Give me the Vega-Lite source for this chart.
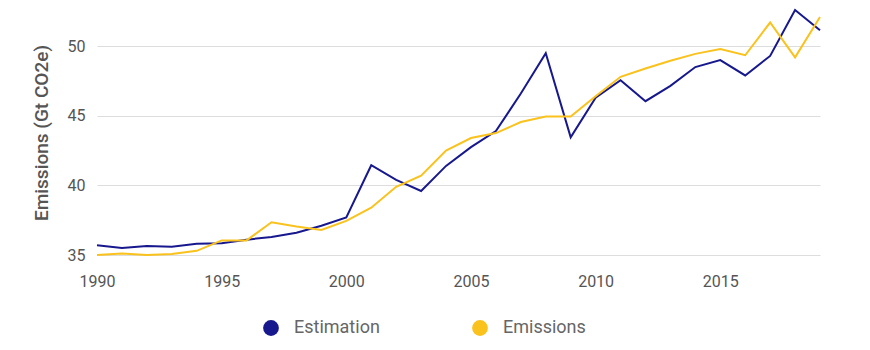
{
  "$schema": "https://vega.github.io/schema/vega-lite/v6.json",
  "width": 723,
  "height": 245,
  "autosize": {"type": "none"},
  "padding": {"left": 97, "top": 10, "right": 50, "bottom": 95},
  "background": "white",
  "config": {
    "view": {"stroke": null},
    "font": "Roboto"
  },
  "data": {
    "values": [
      {"year": 1990, "series": "Estimation", "value": 35.7},
      {"year": 1991, "series": "Estimation", "value": 35.5},
      {"year": 1992, "series": "Estimation", "value": 35.65},
      {"year": 1993, "series": "Estimation", "value": 35.6},
      {"year": 1994, "series": "Estimation", "value": 35.8},
      {"year": 1995, "series": "Estimation", "value": 35.85},
      {"year": 1996, "series": "Estimation", "value": 36.1},
      {"year": 1997, "series": "Estimation", "value": 36.3},
      {"year": 1998, "series": "Estimation", "value": 36.6},
      {"year": 1999, "series": "Estimation", "value": 37.1},
      {"year": 2000, "series": "Estimation", "value": 37.7},
      {"year": 2001, "series": "Estimation", "value": 41.45},
      {"year": 2002, "series": "Estimation", "value": 40.4},
      {"year": 2003, "series": "Estimation", "value": 39.6},
      {"year": 2004, "series": "Estimation", "value": 41.4},
      {"year": 2005, "series": "Estimation", "value": 42.75},
      {"year": 2006, "series": "Estimation", "value": 43.9},
      {"year": 2007, "series": "Estimation", "value": 46.6},
      {"year": 2008, "series": "Estimation", "value": 49.5},
      {"year": 2009, "series": "Estimation", "value": 43.45},
      {"year": 2010, "series": "Estimation", "value": 46.3},
      {"year": 2011, "series": "Estimation", "value": 47.55},
      {"year": 2012, "series": "Estimation", "value": 46.05},
      {"year": 2013, "series": "Estimation", "value": 47.15},
      {"year": 2014, "series": "Estimation", "value": 48.5},
      {"year": 2015, "series": "Estimation", "value": 49.0},
      {"year": 2016, "series": "Estimation", "value": 47.9},
      {"year": 2017, "series": "Estimation", "value": 49.3},
      {"year": 2018, "series": "Estimation", "value": 52.6},
      {"year": 2019, "series": "Estimation", "value": 51.15},
      {"year": 1990, "series": "Emissions", "value": 35.0},
      {"year": 1991, "series": "Emissions", "value": 35.1},
      {"year": 1992, "series": "Emissions", "value": 35.0},
      {"year": 1993, "series": "Emissions", "value": 35.07},
      {"year": 1994, "series": "Emissions", "value": 35.3},
      {"year": 1995, "series": "Emissions", "value": 36.05},
      {"year": 1996, "series": "Emissions", "value": 36.05},
      {"year": 1997, "series": "Emissions", "value": 37.35},
      {"year": 1998, "series": "Emissions", "value": 37.05},
      {"year": 1999, "series": "Emissions", "value": 36.8},
      {"year": 2000, "series": "Emissions", "value": 37.45},
      {"year": 2001, "series": "Emissions", "value": 38.4},
      {"year": 2002, "series": "Emissions", "value": 39.9},
      {"year": 2003, "series": "Emissions", "value": 40.7},
      {"year": 2004, "series": "Emissions", "value": 42.5},
      {"year": 2005, "series": "Emissions", "value": 43.4},
      {"year": 2006, "series": "Emissions", "value": 43.76},
      {"year": 2007, "series": "Emissions", "value": 44.55},
      {"year": 2008, "series": "Emissions", "value": 44.95},
      {"year": 2009, "series": "Emissions", "value": 44.95},
      {"year": 2010, "series": "Emissions", "value": 46.4},
      {"year": 2011, "series": "Emissions", "value": 47.8},
      {"year": 2012, "series": "Emissions", "value": 48.4},
      {"year": 2013, "series": "Emissions", "value": 48.95},
      {"year": 2014, "series": "Emissions", "value": 49.45},
      {"year": 2015, "series": "Emissions", "value": 49.8},
      {"year": 2016, "series": "Emissions", "value": 49.35},
      {"year": 2017, "series": "Emissions", "value": 51.7},
      {"year": 2018, "series": "Emissions", "value": 49.2},
      {"year": 2019, "series": "Emissions", "value": 52.1}
    ]
  },
  "mark": {"type": "line", "strokeWidth": 2, "interpolate": "linear"},
  "encoding": {
    "x": {
      "field": "year",
      "type": "quantitative",
      "scale": {"domain": [1990, 2019], "nice": false, "zero": false},
      "axis": {
        "title": null,
        "values": [1990, 1995, 2000, 2005, 2010, 2015],
        "format": "d",
        "grid": false,
        "domain": false,
        "ticks": false,
        "labelFontSize": 16,
        "labelColor": "#555555",
        "labelPadding": 18,
        "labelFlush": false
      }
    },
    "y": {
      "field": "value",
      "type": "quantitative",
      "scale": {"domain": [35, 52.6], "nice": false, "zero": false},
      "axis": {
        "title": "Emissions (Gt CO2e)",
        "titleFontSize": 19,
        "titleFontWeight": 500,
        "titleColor": "#555555",
        "titlePadding": 16,
        "values": [35, 40, 45, 50],
        "grid": true,
        "gridColor": "#dddddd",
        "domain": false,
        "ticks": false,
        "labelFontSize": 16,
        "labelColor": "#555555",
        "labelPadding": 12
      }
    },
    "color": {
      "field": "series",
      "type": "nominal",
      "scale": {"domain": ["Estimation", "Emissions"], "range": ["#17188e", "#f9c21c"]},
      "legend": {
        "title": null,
        "orient": "none",
        "legendX": 165,
        "legendY": 309,
        "direction": "horizontal",
        "symbolType": "circle",
        "symbolSize": 250,
        "labelFontSize": 18,
        "labelColor": "#666666",
        "labelOffset": 14,
        "columnPadding": 91,
        "encode": {
          "symbols": {
            "update": {
              "fill": {"scale": "color", "field": "value"},
              "fillOpacity": {"value": 1},
              "strokeWidth": {"value": 0}
            }
          }
        }
      }
    }
  }
}
